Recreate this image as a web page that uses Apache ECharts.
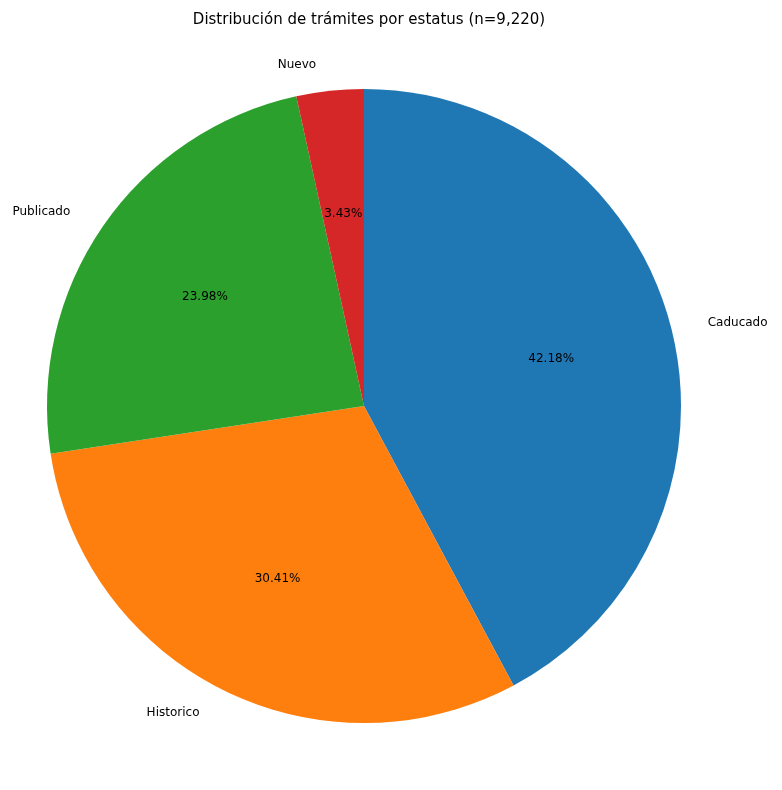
<!DOCTYPE html>
<html><head><meta charset="utf-8">
<script src="https://cdn.jsdelivr.net/npm/echarts@6/dist/echarts.min.js"></script>
<style>html,body{margin:0;padding:0;background:#fff}#c{width:782px;height:790px}</style>
</head><body><div id="c"></div>
<script>
const categories = ['Caducado','Historico','Publicado','Nuevo'];
const counts = [3889, 2804, 2211, 316];
const colors = ['#1f77b4','#ff7f0e','#2ca02c','#d62728'];
const total = counts.reduce((a,b)=>a+b,0);
const data = categories.map((c,i)=>({name:c,value:counts[i],itemStyle:{color:colors[i]}}));
const chart = echarts.init(document.getElementById('c'));
const font = 'DejaVu Sans';
chart.setOption({
  animation:false,
  title:{text:'Distribución de trámites por estatus (n=9,220)',left:364,top:8,textAlign:'center',
    textStyle:{fontFamily:font,fontSize:15,fontWeight:'normal',color:'#000'}},
  series:[
    {type:'pie',center:[364,406],radius:[0,317],startAngle:90,clockwise:true,data:data,
      label:{show:true,position:'outside',fontFamily:font,fontSize:12,color:'#000'},
      labelLine:{show:false,length:26,length2:6},itemStyle:{borderWidth:0}},
    {type:'pie',center:[364,406],radius:[0,380],startAngle:90,clockwise:true,silent:true,
      data:data.map(d=>({name:d.name,value:d.value,itemStyle:{color:'transparent'}})),
      label:{show:true,position:'inside',fontFamily:font,fontSize:12,color:'#000',
        formatter:p=>(p.value/total*100).toFixed(2)+'%'},
      labelLine:{show:false}}
  ]
});
</script></body></html>
